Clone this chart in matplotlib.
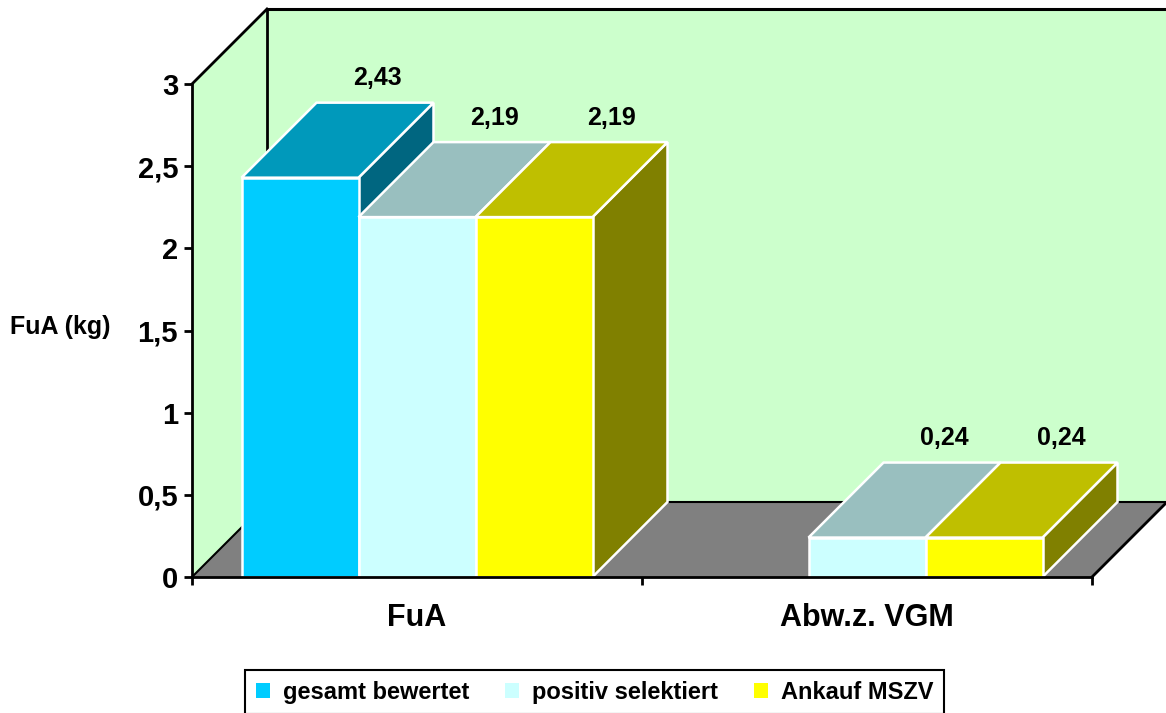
import matplotlib
matplotlib.use("Agg")
import matplotlib.pyplot as plt
from matplotlib.patches import Polygon, Rectangle, Patch

# ---- data -------------------------------------------------------------
categories = ["FuA", "Abw.z. VGM"]
series_names = ["gesamt bewertet", "positiv selektiert", "Ankauf MSZV"]
gesamt_bewertet = [2.43, None]
positiv_selektiert = [2.19, 0.24]
ankauf_mszv = [2.19, 0.24]
series_values = [gesamt_bewertet, positiv_selektiert, ankauf_mszv]
y_ticks = [0, 0.5, 1, 1.5, 2, 2.5, 3]
y_tick_labels = ["0", "0,5", "1", "1,5", "2", "2,5", "3"]
y_label = "FuA (kg)"

# ---- styling ----------------------------------------------------------
front_colors = ["#00CCFF", "#CCFFFF", "#FFFF00"]
top_colors = ["#0099BB", "#99BFBF", "#BFBF00"]
side_colors = ["#006680", "#668080", "#808000"]
wall_color = "#CCFFCC"
floor_color = "#808080"

plt.rcParams["font.family"] = ["Liberation Sans", "DejaVu Sans"]
plt.rcParams["font.weight"] = "bold"

W, H = 1166, 713
fig = plt.figure(figsize=(W / 100, H / 100), dpi=100)
ax_l, ax_b, ax_w, ax_h = 192, 136, 900, 493  # pixels
ax = fig.add_axes([ax_l / W, ax_b / H, ax_w / W, ax_h / H])
ax.set_xlim(0, len(categories))
ax.set_ylim(0, 3)

# depth offset of the pseudo-3D box, converted into data units
depth_px = 75
DX = depth_px * len(categories) / ax_w
DY = depth_px * 3 / ax_h
ymax = 3
nc = len(categories)

# side wall, back wall and floor
ax.add_patch(Polygon([(0, 0), (0, ymax), (DX, ymax + DY), (DX, DY)],
                     closed=True, facecolor=wall_color, edgecolor="none",
                     clip_on=False, zorder=1))
ax.add_patch(Rectangle((DX, DY), nc, ymax, facecolor=wall_color,
                       edgecolor="none", clip_on=False, zorder=1))
ax.add_patch(Polygon([(0, 0), (nc, 0), (nc + DX, DY), (DX, DY)],
                     closed=True, facecolor=floor_color, edgecolor="none",
                     clip_on=False, zorder=1))
line_kw = dict(color="black", clip_on=False, solid_capstyle="projecting")
ax.plot([0, DX], [ymax, ymax + DY], lw=2, zorder=2, **line_kw)
ax.plot([DX, nc + DX], [ymax + DY, ymax + DY], lw=2.2, zorder=2, **line_kw)
ax.plot([DX, DX], [DY, ymax + DY], lw=2, zorder=2, **line_kw)
ax.plot([0, DX], [0, DY], lw=1.5, zorder=2, **line_kw)
ax.plot([DX, nc + DX], [DY, DY], lw=1.5, zorder=2, **line_kw)
ax.plot([nc, nc + DX], [0, DY], lw=2, zorder=2, **line_kw)
ax.plot([nc + DX, nc + DX], [DY, ymax + DY], lw=1, color="#999999",
        clip_on=False, zorder=2)

# bars as boxes: front face, top face, right side
bar_w = 0.26
n_series = len(series_values)
for ci in range(nc):
    center = ci + 0.5
    for si, vals in enumerate(series_values):
        v = vals[ci]
        if v is None:
            continue
        x0 = center - n_series * bar_w / 2 + si * bar_w
        x1 = x0 + bar_w
        ek = dict(edgecolor="white", linewidth=1.8, clip_on=False,
                  joinstyle="miter", zorder=3)
        ax.add_patch(Polygon([(x1, 0), (x1 + DX, DY), (x1 + DX, v + DY), (x1, v)],
                             closed=True, facecolor=side_colors[si], **ek))
        ax.add_patch(Polygon([(x0, v), (x1, v), (x1 + DX, v + DY), (x0 + DX, v + DY)],
                             closed=True, facecolor=top_colors[si], **ek))
        ax.add_patch(Rectangle((x0, 0), bar_w, v, facecolor=front_colors[si], **ek))
        ax.annotate(f"{v:.2f}".replace(".", ","),
                    xy=((x0 + x1) / 2 + DX, v + DY), xytext=(2, 9),
                    textcoords="offset points", ha="center", va="bottom",
                    fontsize=18, fontweight="bold", zorder=5,
                    annotation_clip=False)

# axes: spines, ticks and labels
for side in ["top", "right"]:
    ax.spines[side].set_visible(False)
for side in ["left", "bottom"]:
    ax.spines[side].set_linewidth(2)
    ax.spines[side].set_zorder(4)
ax.set_yticks(y_ticks)
ax.set_yticklabels(y_tick_labels, fontsize=21, fontweight="bold")
ax.set_xticks(range(nc + 1))
ax.set_xticklabels([])
ax.set_xticks([c + 0.5 for c in range(nc)], minor=True)
ax.set_xticklabels(categories, minor=True, fontsize=22, fontweight="bold")
ax.tick_params(axis="y", direction="out", length=6, width=2, pad=4)
ax.tick_params(axis="x", which="major", direction="out", length=6, width=2)
ax.tick_params(axis="x", which="minor", length=0, pad=19)
ax.set_ylabel(y_label, fontsize=18, fontweight="bold", rotation=0,
              ha="left", va="center")
ax.yaxis.set_label_coords(-192 / ax_w + 10 / ax_w, 1.52 / 3)
ax.patch.set_visible(False)

handles = [Patch(facecolor=c, edgecolor="none") for c in front_colors]
leg = fig.legend(handles, series_names, loc="upper center", ncol=3,
                 bbox_to_anchor=(0.51, 1 - 670 / H), frameon=True,
                 fancybox=False, edgecolor="black", framealpha=1,
                 prop={"size": 17, "weight": "bold"},
                 handlelength=0.6, handleheight=0.6, handletextpad=0.55,
                 columnspacing=1.5, borderpad=0.45, borderaxespad=0)
leg.get_frame().set_linewidth(1.5)

fig.savefig("out.png", dpi=100)
